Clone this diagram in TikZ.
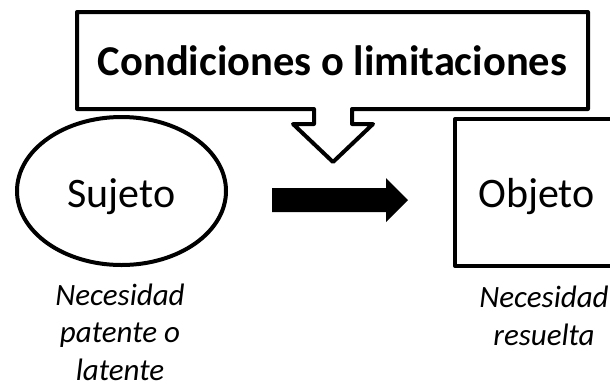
\documentclass[tikz,border=0pt]{standalone}
\usepackage{fontspec}
\setmainfont{Carlito}
\usetikzlibrary{shapes.geometric,calc}
\begin{document}
\begin{tikzpicture}[x=1pt,y=-1pt,line width=4pt,line join=round,
  bigtext/.style={font=\fontsize{42}{50}\selectfont,inner sep=0pt,text depth=0pt},
  labeltext/.style={font=\itshape\fontsize{31}{37.5}\selectfont,align=center,inner sep=0pt,anchor=base,text depth=0pt}]
\useasboundingbox (0,0) rectangle (610,384);
\clip (0,0) rectangle (610,384);
% callout
\draw (77,12) -- (588,12) -- (588,109) -- (352,109) -- (352,124) -- (373,124)
  -- (333,162) -- (293,124) -- (314,124) -- (314,109) -- (77,109) -- cycle;
\node[font=\bfseries\fontsize{42.5}{50}\selectfont,inner sep=0pt] (cond) at (332.5,61) {Condiciones o limitaciones};
% subject and object
\node[draw,ellipse,minimum width=209pt,minimum height=148pt,bigtext,text height=32pt] (suj) at (121.5,191) {Sujeto};
\node[draw,rectangle,minimum width=163pt,minimum height=147pt,bigtext,text height=30pt] (obj) at (536.5,192.5) {Objeto};
% block arrow
\coordinate (fa) at (272,200);
\coordinate (fb) at (408,200);
\fill (fa) ++(0,-12) -- ++(114,0) -- ++(0,-10) -- (fb) -- ++(-22,22) -- ++(0,-10) -- ++(-114,0) -- cycle;
% labels (anchored at the baseline of the last line)
\node[labeltext] (lsuj) at (120,380) {Necesidad\\patente o\\latente};
\node[labeltext] (lobj) at (544,345) {Necesidad\\resuelta};
\end{tikzpicture}
\end{document}
